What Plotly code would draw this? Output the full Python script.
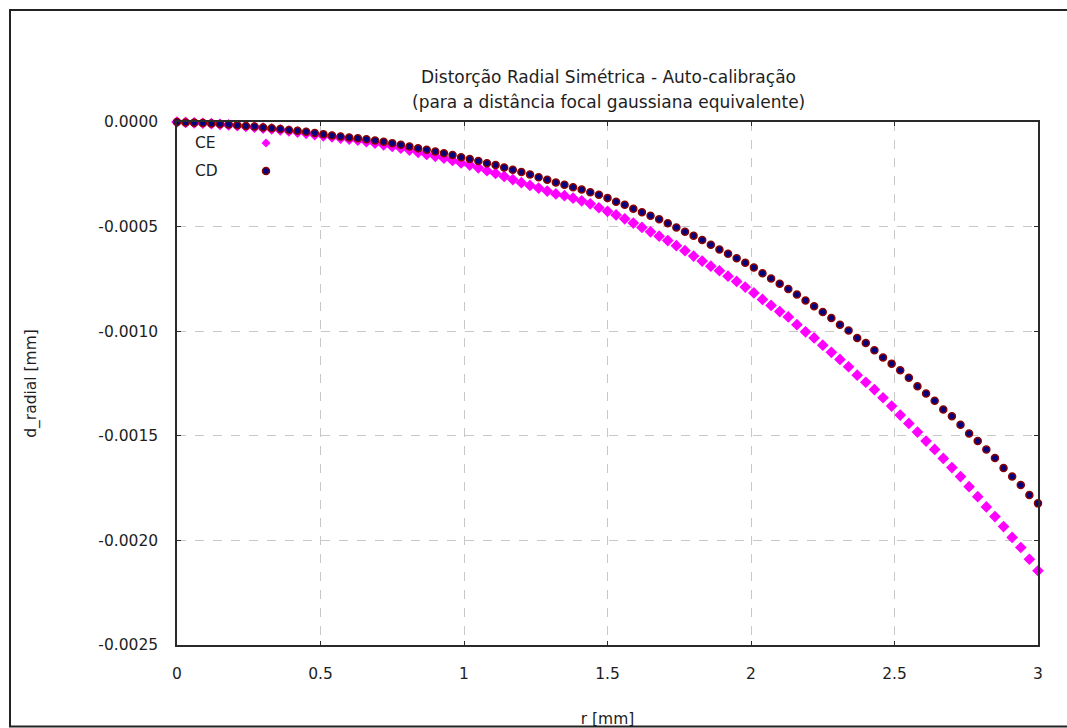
import plotly.graph_objects as go

# r [mm]
r = [0.00, 0.03, 0.06, 0.09, 0.12, 0.15, 0.18, 0.21, 0.24, 0.27,
     0.30, 0.33, 0.36, 0.39, 0.42, 0.45, 0.48, 0.51, 0.54, 0.57,
     0.60, 0.63, 0.66, 0.69, 0.72, 0.75, 0.78, 0.81, 0.84, 0.87,
     0.90, 0.93, 0.96, 0.99, 1.02, 1.05, 1.08, 1.11, 1.14, 1.17,
     1.20, 1.23, 1.26, 1.29, 1.32, 1.35, 1.38, 1.41, 1.44, 1.47,
     1.50, 1.53, 1.56, 1.59, 1.62, 1.65, 1.68, 1.71, 1.74, 1.77,
     1.80, 1.83, 1.86, 1.89, 1.92, 1.95, 1.98, 2.01, 2.04, 2.07,
     2.10, 2.13, 2.16, 2.19, 2.22, 2.25, 2.28, 2.31, 2.34, 2.37,
     2.40, 2.43, 2.46, 2.49, 2.52, 2.55, 2.58, 2.61, 2.64, 2.67,
     2.70, 2.73, 2.76, 2.79, 2.82, 2.85, 2.88, 2.91, 2.94, 2.97,
     3.00]

# d_radial in units of 1e-3 mm
ce_um = [0.000, -0.002, -0.004, -0.006, -0.008, -0.011, -0.014, -0.017, -0.021, -0.025,
         -0.029, -0.033, -0.038, -0.043, -0.048, -0.054, -0.061, -0.066, -0.071, -0.077,
         -0.082, -0.087, -0.094, -0.101, -0.109, -0.117, -0.125, -0.134, -0.145, -0.155,
         -0.164, -0.173, -0.184, -0.196, -0.206, -0.219, -0.233, -0.246, -0.260, -0.275,
         -0.290, -0.303, -0.316, -0.330, -0.344, -0.352, -0.364, -0.377, -0.391, -0.410,
         -0.427, -0.444, -0.463, -0.483, -0.504, -0.525, -0.546, -0.567, -0.591, -0.615,
         -0.641, -0.665, -0.689, -0.711, -0.737, -0.762, -0.789, -0.817, -0.848, -0.877,
         -0.906, -0.932, -0.969, -1.003, -1.032, -1.067, -1.101, -1.135, -1.170, -1.210,
         -1.244, -1.279, -1.318, -1.358, -1.401, -1.441, -1.482, -1.525, -1.565, -1.608,
         -1.652, -1.695, -1.743, -1.791, -1.840, -1.886, -1.934, -1.986, -2.034, -2.090,
         -2.145]

cd_um = [0.000, -0.002, -0.003, -0.005, -0.007, -0.010, -0.012, -0.015, -0.019, -0.022,
         -0.026, -0.030, -0.034, -0.038, -0.042, -0.047, -0.053, -0.058, -0.064, -0.069,
         -0.074, -0.078, -0.082, -0.088, -0.094, -0.101, -0.109, -0.117, -0.125, -0.133,
         -0.141, -0.149, -0.158, -0.168, -0.177, -0.186, -0.197, -0.206, -0.217, -0.228,
         -0.239, -0.251, -0.264, -0.276, -0.289, -0.300, -0.312, -0.323, -0.336, -0.348,
         -0.363, -0.381, -0.396, -0.415, -0.431, -0.448, -0.465, -0.484, -0.504, -0.525,
         -0.544, -0.564, -0.587, -0.609, -0.630, -0.651, -0.673, -0.696, -0.723, -0.748,
         -0.773, -0.798, -0.825, -0.853, -0.881, -0.908, -0.937, -0.969, -0.997, -1.032,
         -1.056, -1.091, -1.126, -1.155, -1.187, -1.223, -1.263, -1.298, -1.333, -1.374,
         -1.406, -1.447, -1.489, -1.525, -1.565, -1.606, -1.654, -1.695, -1.735, -1.783,
         -1.823]

x_ticks = [0, 0.5, 1, 1.5, 2, 2.5, 3]
x_tick_labels = ["0", "0.5", "1", "1.5", "2", "2.5", "3"]
y_ticks = [0, -0.0005, -0.001, -0.0015, -0.002, -0.0025]
y_tick_labels = ["0.0000", "-0.0005", "-0.0010", "-0.0015", "-0.0020", "-0.0025"]

title_line1 = "Distorção Radial Simétrica - Auto-calibração"
title_line2 = "(para a distância focal gaussiana equivalente)"

ce = [v * 1e-3 for v in ce_um]
cd = [v * 1e-3 for v in cd_um]

# body margin is removed in the page, so figure pixels == page pixels
W, H = 1067, 728
PL, PR, PT, PB = 177, 1038, 122, 645          # plot area in page pixels
L, T, R, B = PL, PT, W - PR, H - PB
pw, ph = PR - PL, PB - PT

def px(x):
    return (x - PL) / pw

def py(y):
    return (PB - y) / ph

FONT = "DejaVu Sans"
TXT = "#1E1E1E"

fig = go.Figure()
fig.add_trace(go.Scatter(
    x=r, y=ce, mode="markers", name="CE", cliponaxis=False,
    marker=dict(symbol="diamond", size=9, color="#FF00FF", line=dict(width=0)),
))
fig.add_trace(go.Scatter(
    x=r, y=cd, mode="markers", name="CD", cliponaxis=False,
    marker=dict(symbol="circle", size=7, color="#000080",
                line=dict(width=1.5, color="#8B0000")),
))

axis_common = dict(
    showline=True, linecolor="#2A2A2A", linewidth=1.5, mirror="ticks",
    ticks="inside", ticklen=4, tickcolor="#2A2A2A",
    showgrid=True, gridcolor="#C8C8C8", griddash="dash", gridwidth=1,
    zeroline=False, automargin=False,
    tickfont=dict(family=FONT, size=15.5, color=TXT),
)

fig.update_layout(
    width=W, height=H,
    margin=dict(l=L, r=R, t=T, b=B, autoexpand=False),
    paper_bgcolor="#FFFFFF", plot_bgcolor="#FFFFFF",
    showlegend=False,
    font=dict(family=FONT, size=15, color=TXT),
    xaxis=dict(range=[0, 3], tickvals=x_ticks, ticktext=x_tick_labels,
               ticklabelstandoff=14,
               title=dict(text="r [mm]", font=dict(family=FONT, size=15.5, color=TXT), standoff=34),
               **axis_common),
    yaxis=dict(range=[-0.0025, 0], tickvals=y_ticks, ticktext=y_tick_labels,
               ticklabelstandoff=14,
               title=dict(text="d_radial [mm]", font=dict(family=FONT, size=15.5, color=TXT), standoff=58),
               **axis_common),
)

# title lines
for txt, yy in ((title_line1, 77), (title_line2, 102)):
    fig.add_annotation(text=txt, xref="paper", yref="paper",
                       x=px(608), y=py(yy), xanchor="center", yanchor="middle",
                       showarrow=False, font=dict(family=FONT, size=17, color=TXT))

# legend (text left, marker right)
fig.add_annotation(text="CE", xref="paper", yref="paper", x=px(193), y=py(143),
                   xanchor="left", yanchor="middle", showarrow=False,
                   font=dict(family=FONT, size=15.5, color=TXT))
fig.add_annotation(text="CD", xref="paper", yref="paper", x=px(193), y=py(171),
                   xanchor="left", yanchor="middle", showarrow=False,
                   font=dict(family=FONT, size=15.5, color=TXT))
mx, my1, my2 = 266, 143, 171
d = 4.5
fig.add_shape(type="path", xref="paper", yref="paper",
              path=f"M {px(mx)},{py(my1-d)} L {px(mx+d)},{py(my1)} L {px(mx)},{py(my1+d)} L {px(mx-d)},{py(my1)} Z",
              fillcolor="#FF00FF", line=dict(width=0))
c = 3.5
fig.add_shape(type="circle", xref="paper", yref="paper",
              x0=px(mx-c), x1=px(mx+c), y0=py(my2+c), y1=py(my2-c),
              fillcolor="#000080", line=dict(width=1.5, color="#8B0000"))

# outer frame (page pixels)
fig.add_shape(type="rect", xref="paper", yref="paper",
              x0=px(10), x1=px(1075), y0=py(726.5), y1=py(10),
              line=dict(width=2, color="#222222"), fillcolor="rgba(0,0,0,0)", layer="below")

fig.write_html("out.html",
               config={"displayModeBar": False},
               post_script="document.body.style.margin='0px';"
                           "document.documentElement.style.overflow='hidden';")
